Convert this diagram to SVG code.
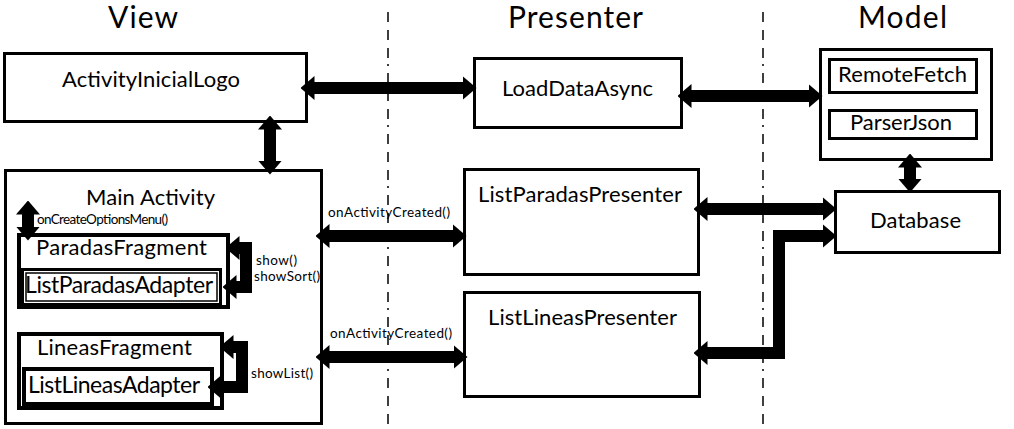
<svg xmlns="http://www.w3.org/2000/svg" width="1014" height="429" viewBox="0 0 1014 429">
<style>
.box{fill:#fff;stroke:#000;stroke-width:3}
.thick{stroke-width:4}
.in{fill:none;stroke:#000;stroke-width:1.5}
.t{font-family:Lato,"Open Sans",sans-serif;fill:#000}
.title{font-size:30px}
.n{font-size:22px}
.s{font-size:13.5px}
.dash{stroke:#000;stroke-width:1.5;stroke-dasharray:10 8 10 8 10 6 2 7;fill:none}
.c{fill:none;stroke:#000;stroke-width:12;stroke-linejoin:miter;marker-start:url(#ah);marker-end:url(#ah)}
</style>
<defs>
<marker id="ah" viewBox="0 0 14 24" refX="0.5" refY="12" markerWidth="14" markerHeight="24" markerUnits="userSpaceOnUse" orient="auto-start-reverse">
<path d="M0,0 L14,12 L0,24 z" fill="#000"/>
</marker>
</defs>
<rect width="1014" height="429" fill="#fff"/>
<g id="lanes">
<line class="dash" x1="388" y1="12" x2="388" y2="429"/>
<line class="dash" x1="763" y1="12" x2="763" y2="429"/>
<text class="t title" x="108" y="28" textLength="70">View</text>
<text class="t title" x="508" y="28" textLength="135">Presenter</text>
<text class="t title" x="858" y="28" textLength="89">Model</text>
</g>
<g id="ActivityInicialLogo">
<rect class="box" x="4.5" y="53.5" width="302" height="68"/>
<text class="t n" x="62" y="87" textLength="178">ActivityInicialLogo</text>
</g>
<g id="LoadDataAsync">
<rect class="box" x="474.5" y="58.5" width="207" height="69"/>
<text class="t n" x="502" y="96" textLength="151">LoadDataAsync</text>
</g>
<g id="ModelBox">
<rect class="box" x="820.5" y="49.5" width="171" height="110"/>
</g>
<g id="RemoteFetch">
<rect class="box" x="829.5" y="59.5" width="147" height="33"/>
<text class="t n" x="838" y="82" textLength="129">RemoteFetch</text>
</g>
<g id="ParserJson">
<rect class="box" x="829.5" y="110.5" width="147" height="28"/>
<text class="t n" x="850" y="130" textLength="102">ParserJson</text>
</g>
<g id="Database">
<rect class="box" x="835.5" y="191.5" width="164" height="61"/>
<text class="t n" x="870" y="228" textLength="91">Database</text>
</g>
<g id="ListParadasPresenter">
<rect class="box" x="464.5" y="169.5" width="234" height="105"/>
<text class="t n" x="478" y="202" textLength="204">ListParadasPresenter</text>
</g>
<g id="ListLineasPresenter">
<rect class="box" x="464.5" y="292.5" width="235" height="104"/>
<text class="t n" x="488" y="325" textLength="189">ListLineasPresenter</text>
</g>
<g id="MainActivity">
<rect class="box" x="5.5" y="170.5" width="316" height="253"/>
<text class="t n" x="86" y="205" textLength="129">Main Activity</text>
</g>
<g id="ParadasFragment">
<rect class="box thick" x="19" y="235" width="209" height="72"/>
<text class="t n" x="36" y="255" textLength="171">ParadasFragment</text>
</g>
<g id="ListParadasAdapter">
<rect class="box" x="22.5" y="269.5" width="198" height="35"/>
<rect class="in" x="26" y="273" width="191" height="28"/>
<text class="t n" x="25" y="293" textLength="188" style="font-size:23px">ListParadasAdapter</text>
</g>
<g id="LineasFragment">
<rect class="box thick" x="19" y="334" width="203" height="74"/>
<text class="t n" x="37" y="355" textLength="155">LineasFragment</text>
</g>
<g id="ListLineasAdapter">
<rect class="box thick" x="24" y="369" width="188" height="35"/>
<text class="t n" x="28" y="393" textLength="172" style="font-size:23px">ListLineasAdapter</text>
</g>
<g id="connectors">
<path class="c" d="M314,88 L463,88"/>
<path class="c" d="M691,96 L809,96"/>
<path class="c" d="M270,129 L270,161"/>
<path class="c" d="M910,167 L910,179"/>
<path class="c" d="M707,209 L823,209"/>
<path class="c" d="M707,353 L779,353 L779,236 L823,236"/>
<path class="c" d="M329,236 L453,236"/>
<path class="c" d="M329,357 L454,357"/>
<path class="c" d="M28,214 L28,227"/>
<path class="c" d="M239,248 L246,248 L246,287 L236,287"/>
<path class="c" d="M233,347 L242,347 L242,387 L221,387"/>
<text class="t s" x="37" y="224" textLength="131">onCreateOptionsMenu()</text>
<text class="t s" x="256" y="265" textLength="41">show()</text>
<text class="t s" x="254" y="281" textLength="66">showSort()</text>
<text class="t s" x="251" y="378" textLength="62">showList()</text>
<text class="t s" x="328" y="217" textLength="122">onActivityCreated()</text>
<text class="t s" x="330" y="338" textLength="122">onActivityCreated()</text>
</g>
</svg>
